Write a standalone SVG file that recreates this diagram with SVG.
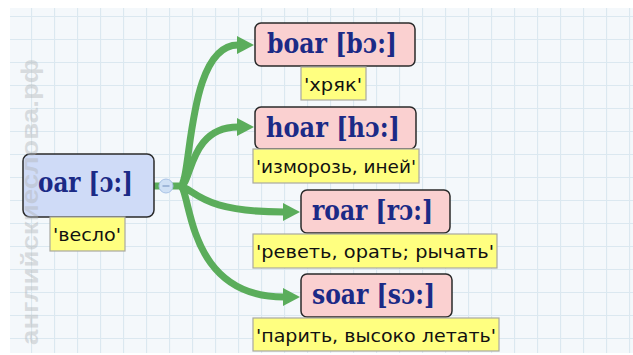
<svg xmlns="http://www.w3.org/2000/svg" width="633" height="355" viewBox="0 0 633 355">
<defs>
<pattern id="grid" x="8" y="16" width="23" height="23" patternUnits="userSpaceOnUse">
<rect width="23" height="23" fill="#f4f8fb"/>
<path d="M0.5,0 V23 M0,0.5 H23" stroke="#dbe8f0" stroke-width="1.2" fill="none"/>
</pattern>
<marker id="arr" markerUnits="userSpaceOnUse" markerWidth="18" markerHeight="20" refX="1" refY="10" orient="auto" viewBox="0 0 18 20">
<path d="M0,1 L17,10 L0,19 z" fill="#5bad5b"/>
</marker>
<style>
.word{fill:#fad0d0;stroke:#2a2a2a;stroke-width:1.5}
.root{fill:#cfdbf7;stroke:#2a2a2a;stroke-width:1.5}
.tr{fill:#ffff80;stroke:#a8a8a0;stroke-width:1.2}
.wt{font-family:"DejaVu Serif",serif;font-weight:bold;font-size:28px;fill:#1b2a86}
.lt{font-family:"DejaVu Sans",sans-serif;font-size:17px;fill:#111}
.con{fill:none;stroke:#5bad5b;stroke-width:7;stroke-linecap:butt}
</style>
</defs>
<rect width="633" height="355" fill="#ffffff"/>
<rect x="10" y="8" width="623" height="345" fill="url(#grid)"/>

<g id="connectors">
<path class="con" d="M154,186 H182"/>
<path class="con" d="M180,186 C192,186 186,45 238,45" marker-end="url(#arr)"/>
<path class="con" d="M180,186 C192,186 188,127 238,127" marker-end="url(#arr)"/>
<path class="con" d="M180,186 C196,190 200,212 284,212" marker-end="url(#arr)"/>
<path class="con" d="M180,186 C192,190 185,297 284,297" marker-end="url(#arr)"/>
</g>

<g id="collapse">
<circle cx="166" cy="186" r="7" fill="#cfe0f5" stroke="#a9c3e6" stroke-width="1"/>
<path d="M162.5,186 H169.5" stroke="#7f9cc6" stroke-width="1.2"/>
</g>

<g id="oar">
<rect class="root" x="23" y="154" width="131" height="63" rx="7"/>
<text class="wt" x="38" y="192" textLength="95" lengthAdjust="spacingAndGlyphs">oar [ɔ:]</text>
<rect class="tr" x="50" y="217" width="75" height="34"/>
<text class="lt" x="53" y="241" textLength="68" lengthAdjust="spacingAndGlyphs">'весло'</text>
</g>

<g id="boar">
<rect class="word" x="255" y="23" width="160" height="43" rx="6"/>
<text class="wt" x="267" y="53" textLength="130" lengthAdjust="spacingAndGlyphs">boar [bɔ:]</text>
<rect class="tr" x="301" y="67" width="65" height="33"/>
<text class="lt" x="304" y="91" textLength="58" lengthAdjust="spacingAndGlyphs">'хряк'</text>
</g>

<g id="hoar">
<rect class="word" x="255" y="107" width="161" height="42" rx="6"/>
<text class="wt" x="266" y="137" textLength="134" lengthAdjust="spacingAndGlyphs">hoar [hɔ:]</text>
<rect class="tr" x="253" y="149" width="166" height="34"/>
<text class="lt" x="256" y="173" textLength="160" lengthAdjust="spacingAndGlyphs">'изморозь, иней'</text>
</g>

<g id="roar">
<rect class="word" x="301" y="190" width="149" height="43" rx="6"/>
<text class="wt" x="312" y="220" textLength="121" lengthAdjust="spacingAndGlyphs">roar [rɔ:]</text>
<rect class="tr" x="253" y="234" width="244" height="34"/>
<text class="lt" x="256" y="258" textLength="238" lengthAdjust="spacingAndGlyphs">'реветь, орать; рычать'</text>
</g>

<g id="soar">
<rect class="word" x="301" y="274" width="151" height="43" rx="6"/>
<text class="wt" x="312" y="304" textLength="123" lengthAdjust="spacingAndGlyphs">soar [sɔ:]</text>
<rect class="tr" x="253" y="318" width="246" height="33"/>
<text class="lt" x="256" y="342" textLength="240" lengthAdjust="spacingAndGlyphs">'парить, высоко летать'</text>
</g>

<text transform="translate(38,345) rotate(-90)" font-family="'Liberation Sans',sans-serif" font-weight="bold" font-size="24" fill="#b2b6b9" fill-opacity="0.45" textLength="286" lengthAdjust="spacingAndGlyphs">английскиеслова.рф</text>
</svg>
